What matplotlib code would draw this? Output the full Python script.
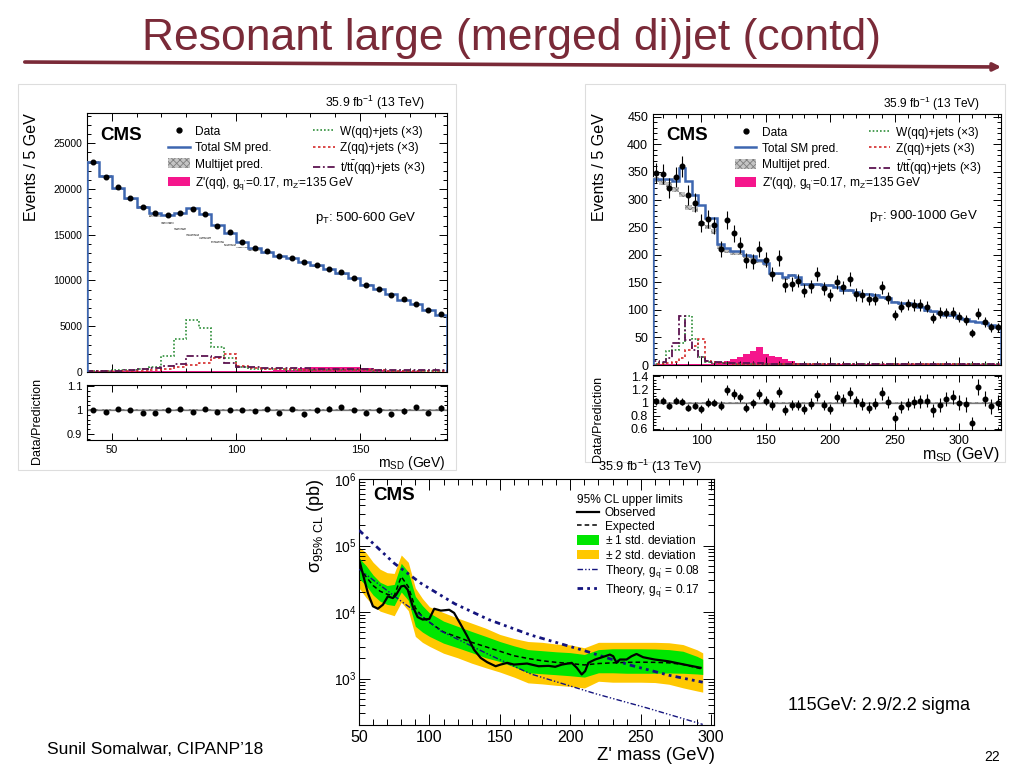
import numpy as np
import matplotlib
matplotlib.use("Agg")
import matplotlib.pyplot as plt
import matplotlib.ticker as mt
from matplotlib.patches import FancyArrowPatch, Rectangle, Patch
from matplotlib.lines import Line2D

plt.rcParams['font.family'] = ['Liberation Sans', 'DejaVu Sans']
plt.rcParams['mathtext.fontset'] = 'custom'
plt.rcParams['mathtext.rm'] = 'Liberation Sans'
plt.rcParams['mathtext.it'] = 'Liberation Sans:italic'
plt.rcParams['mathtext.bf'] = 'Liberation Sans:bold'
plt.rcParams['mathtext.sf'] = 'Liberation Sans'
plt.rcParams['hatch.linewidth'] = 0.6

# ---------------- data: pT 500-600 GeV (left) ----------------
msd_L_lo, msd_L_hi = 40, 185
data_L = [22900, 21300, 20260, 19000, 18000, 17370, 17150, 17400, 17770, 17260,
          16000, 15260, 14160, 13580, 13250, 12700, 12500, 11970, 11680, 11300,
          10880, 10300, 9560, 9090, 8430, 7960, 7450, 6820, 6350]
total_L = [23000, 21450, 20070, 18980, 18070, 17400, 17150, 17400, 17900, 17300,
           16060, 15150, 14230, 13500, 13140, 12700, 12500, 12040, 11680, 11300,
           10770, 10300, 9560, 9050, 8470, 7900, 7400, 6800, 6270]
multijet_L = [22850, 21350, 19990, 18900, 17960, 17100, 16300, 15600, 15000, 14600,
              14200, 13900, 13600, 13300, 13000, 12600, 12400, 11950, 11600, 11200,
              10700, 10250, 9500, 9000, 8420, 7860, 7360, 6760, 6230]
wjets_L = [150, 150, 200, 250, 350, 580, 1790, 3580, 5700, 4780,
           2770, 1500, 550, 350, 300, 280, 250, 230, 220, 200,
           190, 180, 170, 160, 150, 140, 130, 120, 110]
zjets_L = [80, 90, 100, 120, 150, 200, 300, 500, 800, 1000,
           1500, 1950, 700, 400, 330, 300, 280, 260, 240, 220,
           200, 190, 180, 170, 160, 150, 140, 130, 120]
top_L = [100, 120, 150, 200, 300, 450, 700, 900, 1700, 1700,
         1650, 1000, 600, 500, 480, 450, 420, 400, 380, 350,
         330, 300, 280, 260, 240, 220, 200, 190, 180]
sig_L = [60, 60, 60, 60, 60, 70, 70, 80, 90, 100,
         100, 110, 120, 130, 150, 170, 220, 450, 520, 560,
         560, 520, 420, 180, 100, 80, 60, 50, 40]
ratio_L = [1.001, 0.993, 1.006, 0.999, 0.99, 0.99, 1.001, 1.003, 0.994, 1.003,
           0.994, 1.0, 0.999, 0.996, 1.004, 0.989, 1.004, 0.982, 0.999, 1.006,
           1.012, 1.001, 0.99, 0.999, 0.983, 0.997, 1.011, 0.99, 1.008]

# ---------------- data: pT 900-1000 GeV (right) ----------------
msd_R_lo, msd_R_hi = 62.5, 332.5
data_R = [348, 346, 321, 341, 360, 308, 294, 257, 265, 253,
          211, 263, 239, 217, 190, 188, 211, 191, 165, 194,
          145, 147, 153, 135, 143, 165, 139, 127, 150, 141,
          156, 128, 126, 120, 120, 141, 121, 91, 106, 110,
          109, 109, 106, 85, 95, 94, 95, 87, 82, 58,
          93, 78, 68, 68]
total_R = [337, 337, 337, 333, 357, 334, 309, 290, 266, 266,
           219, 212, 206, 206, 200, 197, 190, 185, 167, 167,
           159, 164, 160, 147, 147, 147, 145, 145, 142, 136,
           136, 133, 129, 129, 127, 124, 122, 115, 112, 112,
           110, 105, 99, 97, 94, 91, 90, 86, 84, 80,
           78, 76, 72, 69]
multijet_R = [336, 332, 327, 318, 309, 285, 282, 256, 250, 242,
              214, 207, 202, 202, 196, 193, 187, 182, 165, 165,
              157, 162, 158, 146, 146, 146, 144, 144, 141, 135,
              135, 132, 128, 128, 126, 123, 121, 114, 111, 111,
              109, 104, 98, 96, 93, 90, 89, 85, 83, 79,
              77, 75, 71, 68]
wjets_R = [2, 4, 25, 28, 40, 88, 48, 15, 6, 4,
           3, 3, 2, 2, 2, 2, 2, 2, 1, 1,
           1, 1, 1, 1, 1, 1, 1, 1, 1, 1,
           1, 1, 1, 1, 1, 1, 1, 1, 1, 1,
           1, 1, 1, 1, 1, 1, 1, 1, 1, 1,
           1, 1, 1, 1]
zjets_R = [1, 1, 3, 6, 12, 27, 35, 48, 8, 5,
           4, 3, 2, 2, 2, 2, 1, 1, 1, 1,
           1, 1, 1, 1, 1, 1, 1, 1, 1, 1,
           1, 1, 1, 1, 1, 1, 1, 1, 1, 1,
           1, 1, 1, 1, 1, 1, 1, 1, 1, 1,
           1, 1, 1, 1]
top_R = [8, 5, 12, 40, 88, 45, 28, 15, 8, 6,
         5, 4, 4, 3, 3, 3, 3, 2, 2, 2,
         2, 2, 2, 2, 2, 2, 2, 2, 2, 2,
         2, 2, 2, 2, 2, 2, 2, 2, 2, 1,
         1, 1, 1, 1, 1, 1, 1, 1, 1, 1,
         1, 1, 1, 1]
sig_R = [1, 1, 1, 1, 1, 1, 1, 1, 2, 3,
         5, 8, 10, 15, 20, 26, 32, 20, 16, 14,
         10, 7, 4, 2, 1, 1, 1, 1, 1, 1,
         1, 1, 1, 1, 1, 1, 1, 1, 1, 1,
         1, 1, 1, 1, 1, 1, 1, 1, 1, 1,
         1, 1, 1, 1]
ratio_R = [1.02, 1.03, 0.95, 1.03, 1.01, 0.92, 0.95, 0.90, 1.0, 1.0,
           0.95, 1.19, 1.13, 1.08, 0.92, 0.99, 1.13, 1.03, 0.96, 1.16,
           0.88, 0.96, 0.96, 0.90, 0.98, 1.11, 0.96, 0.90, 1.09, 1.04,
           1.14, 1.02, 0.98, 0.92, 0.98, 1.14, 1.01, 0.77, 0.93, 0.98,
           1.01, 1.02, 1.03, 0.88, 0.96, 1.06, 1.08, 1.0, 0.97, 0.69,
           1.24, 1.06, 0.94, 1.0]

# ---------------- data: 95% CL limits (bottom) ----------------
lim_mass = [50, 55, 60, 65, 70, 75, 80, 85, 90, 95, 100, 110, 120, 130, 140, 150, 160,
            170, 180, 190, 200, 210, 220, 230, 240, 250, 260, 270, 280, 290, 294]
exp_lim = [4.7e4, 3.4e4, 2.5e4, 2.05e4, 1.85e4, 1.75e4, 3.4e4, 2.4e4, 1.15e4, 8.5e3, 7.0e3,
           5000, 4200, 3500, 3000, 2570, 2200,
           2000, 1850, 1750, 1680, 1600, 1680, 1720, 1750, 1760, 1750, 1720, 1630, 1450, 1380]
hi1_lim = [6.5e4, 5.0e4, 3.6e4, 2.8e4, 2.5e4, 2.6e4, 5.4e4, 4.0e4, 1.72e4, 1.25e4, 9.7e3,
           7300, 6100, 5100, 4300, 3600, 3100,
           2720, 2620, 2520, 2450, 2300, 2720, 2800, 2800, 2800, 2780, 2720, 2570, 2150, 1950]
lo1_lim = [3.2e4, 2.5e4, 1.8e4, 1.45e4, 1.3e4, 1.25e4, 2.0e4, 1.5e4, 6.1e3, 5.0e3, 4.3e3,
           3400, 2900, 2450, 2050, 1800, 1500,
           1220, 1180, 1140, 1100, 1050, 1220, 1220, 1200, 1200, 1200, 1210, 1200, 1170, 1150]
hi2_lim = [9.5e4, 7.8e4, 5.6e4, 4.4e4, 3.9e4, 3.8e4, 7.2e4, 5.6e4, 2.3e4, 1.6e4, 1.2e4,
           9800, 8100, 6800, 5700, 4600, 4000,
           3600, 3500, 3300, 3200, 2900, 3500, 3500, 3500, 3500, 3500, 3450, 3240, 2700, 2430]
lo2_lim = [2.3e4, 1.65e4, 1.25e4, 1.03e4, 9.5e3, 8.8e3, 1.4e4, 1.05e4, 4.3e3, 3.5e3, 3.05e3,
           2400, 2050, 1700, 1450, 1250, 1050,
           860, 830, 790, 760, 720, 910, 880, 880, 880, 870, 820, 724, 650, 624]
obs_mass = [50, 53, 56.3, 59.9, 63.4, 67, 70.5, 74, 76.4, 79.9,
            82.2, 84.6, 88.1, 91.6, 95.2, 99.9, 103.4, 108.1, 114, 117.5,
            122.2, 126.9, 131.6, 136.4, 141, 147, 150.5, 155.2, 160, 169.3,
            177.5, 184.6, 189.3, 194, 201, 204.6, 208.1, 210.5, 212.8, 217.6,
            224.6, 228.1, 230.5, 232.8, 235.2, 239.9, 243.4, 247, 251.7, 259.9,
            269.3, 281, 292.5]
obs_lim = [6.3e4, 3.55e4, 1.93e4, 1.22e4, 1.12e4, 1.29e4, 1.72e4, 1.62e4, 1.82e4, 2.43e4,
           2.48e4, 2.16e4, 1.22e4, 8.4e3, 7.7e3, 7.85e3, 1.12e4, 1.05e4, 1.08e4, 9.7e3,
           6.5e3, 4.3e3, 2.72e3, 2.04e3, 1.76e3, 1.53e3, 1.62e3, 1.72e3, 1.62e3, 1.68e3,
           1.53e3, 1.55e3, 1.5e3, 1.62e3, 1.72e3, 1.45e3, 1.15e3, 1.29e3, 1.72e3, 1.93e3,
           2.16e3, 2.29e3, 2.16e3, 1.72e3, 1.93e3, 1.93e3, 2.16e3, 2.34e3, 2.09e3, 1.93e3,
           1.82e3, 1.62e3, 1.45e3]
th017_mass = [50, 75, 94, 118, 142, 172, 209, 242, 270, 294]
th017 = [1.7e5, 5.4e4, 2.7e4, 1.33e4, 7.7e3, 4.5e3, 2.66e3, 1.6e3, 1.12e3, 880]
th008_mass = [50, 70, 80, 94, 108, 142, 172, 218, 254, 294]
th008 = [4.4e4, 2.1e4, 1.45e4, 8.9e3, 5.2e3, 2.3e3, 1.17e3, 590, 363, 204]

# ---------------- text ----------------
slide_title = "Resonant large (merged di)jet (contd)"
footer_left = "Sunil Somalwar, CIPANP\u201918"
note_text = "115GeV: 2.9/2.2 sigma"
page_no = "22"
lumi = r"35.9 fb$^{-1}$ (13 TeV)"
times3 = " (\u00d73)"

# ---------------- style ----------------
c_title = '#7a2a38'
c_tot = '#3d66b0'
c_sig = '#f5168c'
c_w = '#2f8f3a'
c_z = '#d42a2a'
c_top = '#5c1450'
c_mj_face = '#c4c4c4'
c_mj_edge = '#7e7e7e'
c_g1 = '#00e600'
c_g2 = '#ffc800'
c_th = '#14147e'

W, H = 1024, 768
fig = plt.figure(figsize=(W / 100, H / 100), dpi=100)
fig.patch.set_facecolor('white')


def add_px(l, t, r, b):
    return fig.add_axes([l / W, 1 - b / H, (r - l) / W, (b - t) / H])


def ftext(x, y, s, **kw):
    return fig.text(x / W, 1 - y / H, s, **kw)


def root_ticks(ax, size, major=6, minor=3):
    ax.tick_params(which='both', direction='in', top=True, right=True,
                   labelsize=size, width=0.7)
    ax.tick_params(which='major', length=major)
    ax.tick_params(which='minor', length=minor)
    for s in ax.spines.values():
        s.set_linewidth(0.8)


# ---- slide decorations ----
ftext(512, 50, slide_title, ha='center', va='baseline', fontsize=32, color=c_title)
fig.patches.append(FancyArrowPatch((22 / W, 1 - 62 / H), (1004 / W, 1 - 67 / H),
                                   transform=fig.transFigure, arrowstyle='-|>',
                                   mutation_scale=11, lw=2.6, color=c_title))
for (l, t, r, b) in [(18, 84, 456, 470), (585, 84, 1005, 462)]:
    fig.patches.append(Rectangle((l / W, 1 - b / H), (r - l) / W, (b - t) / H,
                                 transform=fig.transFigure, fill=False,
                                 ec='#dddddd', lw=0.8))
ftext(47, 750, footer_left, ha='left', va='center', fontsize=12.5)
ftext(788, 706, note_text, ha='left', va='center', fontsize=13)
ftext(1000, 757, page_no, ha='right', va='center', fontsize=10)


def hist_panel(ax, axr, lo, hi, data, total, mj, wj, zj, tp, sig, ratio,
               mj_frac, band, ylim, ymaj, ymin, xmaj, xmin, rlim, rmaj, rmin,
               lab_size, rlab_size):
    edges = np.arange(lo, hi + 0.01, 5.0)
    cen = edges[:-1] + 2.5
    data = np.asarray(data, float)
    total = np.asarray(total, float)
    mj = np.asarray(mj, float)
    ax.stairs(sig, edges, fill=True, color=c_sig, lw=0, zorder=1)
    ax.stairs(wj, edges, color=c_w, ls=(0, (1, 1.2)), lw=1.2, zorder=2)
    ax.stairs(zj, edges, color=c_z, ls=(0, (1.5, 1.5)), lw=1.2, zorder=2)
    ax.stairs(tp, edges, color=c_top, ls=(0, (4, 1.5, 1, 1.5)), lw=1.3, zorder=2)
    ax.stairs(mj * (1 + mj_frac), edges, baseline=mj * (1 - mj_frac), fill=True,
              facecolor=c_mj_face, edgecolor=c_mj_edge, hatch='xxxxx', lw=0, zorder=3)
    ax.stairs(total, edges, color=c_tot, lw=1.8, zorder=4)
    ax.errorbar(cen, data, yerr=np.sqrt(data), fmt='o', color='k', ms=3.3,
                elinewidth=0.8, capsize=0, zorder=5)
    ax.set_xlim(lo, hi)
    ax.set_ylim(*ylim)
    ax.yaxis.set_major_locator(mt.MultipleLocator(ymaj))
    ax.yaxis.set_minor_locator(mt.MultipleLocator(ymin))
    ax.xaxis.set_major_locator(mt.MultipleLocator(xmaj))
    ax.xaxis.set_minor_locator(mt.MultipleLocator(xmin))
    root_ticks(ax, lab_size)
    ax.tick_params(labelbottom=False)

    # ratio panel
    axr.axhspan(1 - band, 1 + band, facecolor=c_mj_face, edgecolor=c_mj_edge,
                hatch='xxxxx', lw=0, zorder=1)
    axr.axhline(1.0, color='#777777', lw=0.9, zorder=2)
    axr.errorbar(cen, ratio, yerr=np.sqrt(data) / total, fmt='o', color='k',
                 ms=3.3, elinewidth=0.8, capsize=0, zorder=5)
    axr.set_xlim(lo, hi)
    axr.set_ylim(*rlim)
    axr.yaxis.set_major_locator(mt.MultipleLocator(rmaj))
    axr.yaxis.set_minor_locator(mt.MultipleLocator(rmin))
    axr.yaxis.set_major_formatter(mt.FormatStrFormatter('%g'))
    axr.xaxis.set_major_locator(mt.MultipleLocator(xmaj))
    axr.xaxis.set_minor_locator(mt.MultipleLocator(xmin))
    root_ticks(axr, rlab_size, major=5, minor=2.5)


def hist_legends(ax, x1, x2, ytop, size):
    h1 = [Line2D([], [], marker='o', ls='none', color='k', ms=3.5),
          Line2D([], [], color=c_tot, lw=1.8),
          Patch(facecolor=c_mj_face, edgecolor=c_mj_edge, hatch='xxxxx', lw=0),
          Patch(facecolor=c_sig, lw=0)]
    l1 = ["Data", "Total SM pred.", "Multijet pred.",
          r"Z'(qq), g$_{\mathrm{q'}}$=0.17, m$_{\mathrm{Z'}}$=135 GeV"]
    h2 = [Line2D([], [], color=c_w, ls=(0, (1, 1.2)), lw=1.2),
          Line2D([], [], color=c_z, ls=(0, (1.5, 1.5)), lw=1.2),
          Line2D([], [], color=c_top, ls=(0, (4, 1.5, 1, 1.5)), lw=1.3)]
    l2 = ["W(qq)+jets" + times3, "Z(qq)+jets" + times3,
          r"t/t$\bar{\mathrm{t}}$(qq)+jets" + times3]
    kw = dict(loc='upper left', frameon=False, fontsize=size, borderpad=0,
              borderaxespad=0, handlelength=1.8, handletextpad=0.45,
              labelspacing=0.35, handleheight=0.9)
    leg1 = ax.legend(h1, l1, bbox_to_anchor=(x1, ytop), **kw)
    ax.add_artist(leg1)
    ax.legend(h2, l2, bbox_to_anchor=(x2, ytop), **kw)


# ---------------- top-left panel ----------------
axL = add_px(87, 113, 447, 372)
axLr = add_px(87, 385, 447, 440)
hist_panel(axL, axLr, msd_L_lo, msd_L_hi, data_L, total_L, multijet_L, wjets_L,
           zjets_L, top_L, sig_L, ratio_L, 0.007, 0.003, (0, 28300), 5000, 1000,
           50, 10, (0.875, 1.105), 0.1, 0.02, 7.5, 8)
hist_legends(axL, 0.225, 0.628, 0.95, 8.6)
ftext(100, 135, "CMS", ha='left', va='center', fontsize=13.5, fontweight='bold')
ftext(417, 218, r"p$_{\mathrm{T}}$: 500-600 GeV", ha='right', va='center', fontsize=9.5)
ftext(425, 103, lumi, ha='right', va='center', fontsize=8.8)
ftext(32, 113, "Events / 5 GeV", rotation=90, ha='center', va='top', fontsize=11.5)
ftext(37, 378, "Data/Prediction", rotation=90, ha='center', va='top', fontsize=9)
ftext(446, 467, r"m$_{\mathrm{SD}}$ (GeV)", ha='right', va='baseline', fontsize=10)

# ---------------- top-right panel ----------------
axR = add_px(653, 114, 1001, 365)
axRr = add_px(653, 375, 1001, 430)
hist_panel(axR, axRr, msd_R_lo, msd_R_hi, data_R, total_R, multijet_R, wjets_R,
           zjets_R, top_R, sig_R, ratio_R, 0.015, 0.015, (0, 455), 50, 10,
           50, 10, (0.58, 1.42), 0.2, 0.05, 9, 9)
hist_legends(axR, 0.235, 0.62, 0.95, 8.6)
ftext(666, 136, "CMS", ha='left', va='center', fontsize=13.5, fontweight='bold')
ftext(978, 216, r"p$_{\mathrm{T}}$: 900-1000 GeV", ha='right', va='center', fontsize=9.5)
ftext(980, 104, lumi, ha='right', va='center', fontsize=8.6)
ftext(599, 113, "Events / 5 GeV", rotation=90, ha='center', va='top', fontsize=11.5)
ftext(598, 376, "Data/Prediction", rotation=90, ha='center', va='top', fontsize=9)
ftext(1000, 459, r"m$_{\mathrm{SD}}$ (GeV)", ha='right', va='baseline', fontsize=11.5)

# ---------------- bottom limit panel ----------------
axB = add_px(359, 479, 714, 725)
axB.fill_between(lim_mass, lo2_lim, hi2_lim, color=c_g2, lw=0, zorder=1)
axB.fill_between(lim_mass, lo1_lim, hi1_lim, color=c_g1, lw=0, zorder=2)
axB.plot(lim_mass, exp_lim, color='k', ls=(0, (3, 2)), lw=1.1, zorder=3)
axB.plot(th008_mass, th008, color=c_th, ls=(0, (4, 1.5, 1, 1.5, 1, 1.5)), lw=1.0, zorder=3)
axB.plot(th017_mass, th017, color=c_th, ls=(0, (2, 1.5, 1, 1.5, 1, 1.5)), lw=2.0, zorder=3)
axB.plot(obs_mass, obs_lim, color='k', lw=1.6, zorder=4)
axB.set_yscale('log')
axB.set_xlim(50, 302)
axB.set_ylim(2e2, 1e6)
axB.xaxis.set_major_locator(mt.MultipleLocator(50))
axB.xaxis.set_minor_locator(mt.MultipleLocator(10))
axB.yaxis.set_major_locator(mt.LogLocator(base=10, numticks=10))
axB.yaxis.set_minor_locator(mt.LogLocator(base=10, subs=np.arange(2, 10), numticks=20))
axB.yaxis.set_minor_formatter(mt.NullFormatter())
root_ticks(axB, 11.5, major=8, minor=4)
axB.tick_params(axis='y', labelsize=10, pad=2)
hb = [Line2D([], [], color='k', lw=1.6),
      Line2D([], [], color='k', ls=(0, (3, 2)), lw=1.1),
      Patch(facecolor=c_g1, lw=0),
      Patch(facecolor=c_g2, lw=0),
      Line2D([], [], color=c_th, ls=(0, (4, 1.5, 1, 1.5, 1, 1.5)), lw=1.0),
      Line2D([], [], color=c_th, ls=(0, (2, 1.5, 1, 1.5, 1, 1.5)), lw=2.0)]
lb = ["Observed", "Expected", r"$\pm$ 1 std. deviation", r"$\pm$ 2 std. deviation",
      r"Theory, g$_{\mathrm{q'}}$ = 0.08", r"Theory, g$_{\mathrm{q'}}$ = 0.17"]
legB = axB.legend(hb, lb, loc='upper left', bbox_to_anchor=(0.613, 0.94), frameon=False,
                  fontsize=8.6, borderpad=0, borderaxespad=0, handlelength=1.9,
                  handletextpad=0.45, labelspacing=0.12, handleheight=0.9,
                  title="95% CL upper limits", title_fontsize=8.6, alignment='left')
ftext(373, 495, "CMS", ha='left', va='center', fontsize=13.5, fontweight='bold')
ftext(702, 467, lumi, ha='right', va='center', fontsize=9.2)
ftext(316, 478, "\u03c3" + r"$_{\mathrm{95\%\ CL}}$ (pb)", rotation=90, ha='center',
      va='top', fontsize=13)
ftext(715, 760, "Z' mass (GeV)", ha='right', va='baseline', fontsize=13.2)

fig.savefig("out.png", dpi=100, facecolor='white')
